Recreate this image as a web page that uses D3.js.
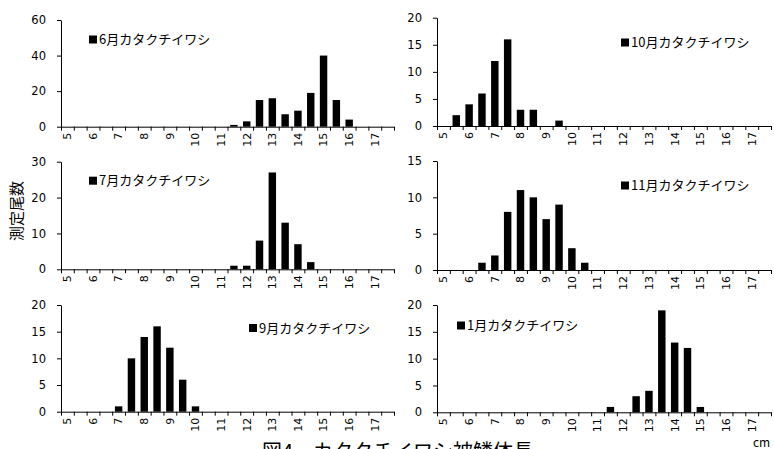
<!DOCTYPE html>
<html lang="ja">
<head>
<meta charset="UTF-8">
<script src="https://d3js.org/d3.v7.min.js"></script>
<title>カタクチイワシ被鱗体長</title>
<style>
  body { margin: 0; background: #fff; }
  svg { display: block; }
  .tick text { font-family: "DejaVu Sans", sans-serif; fill: #000; }
  .jp { font-family: "Noto Sans CJK JP", sans-serif; fill: #000; }
</style>
</head>
<body>
<svg width="774" height="449"></svg>
<script>
// 体長階級 (cm)
const lengths = ["5","5.5","6","6.5","7","7.5","8","8.5","9","9.5","10","10.5","11","11.5",
                 "12","12.5","13","13.5","14","14.5","15","15.5","16","16.5","17","17.5"]
const tickLabels = ["5","6","7","8","9","10","11","12","13","14","15","16","17"]

const months = ["6月", "10月", "7月", "11月", "9月", "1月"]
const jun = [0,0,0,0,0,0,0,0,0,0,0,0,0,1,3,15,16,7,9,19,40,15,4,0,0,0]
const oct = [0,2,4,6,12,16,3,3,0,1,0,0,0,0,0,0,0,0,0,0,0,0,0,0,0,0]
const jul = [0,0,0,0,0,0,0,0,0,0,0,0,0,1,1,8,27,13,7,2,0,0,0,0,0,0]
const nov = [0,0,0,1,2,8,11,10,7,9,3,1,0,0,0,0,0,0,0,0,0,0,0,0,0,0]
const sep = [0,0,0,0,1,10,14,16,12,6,1,0,0,0,0,0,0,0,0,0,0,0,0,0,0,0]
const jan = [0,0,0,0,0,0,0,0,0,0,0,0,0,1,0,3,4,19,13,12,1,0,0,0,0,0]
const seriesValues = [jun, oct, jul, nov, sep, jan]
const yMax = [60, 20, 30, 15, 20, 20]
const yStep = [20, 5, 10, 5, 5, 5]

// レイアウト
const panels = [
  {l: 61,  r: 394, t: 20,  b: 126.7, lx: 89,  ly: 35.5},
  {l: 437, r: 771, t: 17.7, b: 126,  lx: 621, ly: 38.5},
  {l: 61,  r: 394, t: 161.7, b: 269.3, lx: 89,  ly: 176.7},
  {l: 437, r: 771, t: 161, b: 270,   lx: 621, ly: 181.5},
  {l: 61,  r: 394, t: 305, b: 411.7, lx: 249, ly: 324},
  {l: 437, r: 771, t: 305, b: 412.3, lx: 457, ly: 321.5}
]

const svg = d3.select("svg")

panels.forEach((p, i) => {
  const vals = seriesValues[i]
  const x = d3.scaleBand().domain(lengths).range([p.l, p.r]).paddingInner(0.42).paddingOuter(0.21)
  const xb = d3.scaleLinear().domain([0, lengths.length]).range([p.l, p.r])
  const y = d3.scaleLinear().domain([0, yMax[i]]).range([p.b, p.t])
  const g = svg.append("g")

  g.selectAll("rect").data(vals).enter().append("rect")
    .attr("x", (d, j) => x(lengths[j]))
    .attr("width", x.bandwidth())
    .attr("y", d => y(d))
    .attr("height", d => y(0) - y(d))
    .attr("fill", "#000")

  // y軸
  const ya = g.append("g").attr("transform", `translate(${p.l},0)`)
    .call(d3.axisLeft(y).tickValues(d3.range(0, yMax[i] + 1, yStep[i])).tickSize(4).tickSizeOuter(0).tickPadding(11))
  ya.selectAll("text").style("font-size", "11.5px")

  // x軸の目盛線 (階級の境界)
  g.append("g").attr("transform", `translate(0,${p.b})`)
    .call(d3.axisBottom(xb).tickValues(d3.range(0, lengths.length + 1)).tickFormat("").tickSize(4).tickSizeOuter(0))

  // x軸ラベル
  const xa = g.append("g").attr("transform", `translate(0,${p.b})`)
    .call(d3.axisBottom(x).tickValues(tickLabels).tickSize(0))
  xa.select(".domain").remove()
  xa.selectAll("text")
    .style("font-size", "11px")
    .style("text-anchor", "end")
    .attr("transform", "rotate(-90)")
    .attr("x", -6).attr("y", 0).attr("dy", "0.35em")

  g.selectAll(".domain, .tick line").attr("stroke", "#000")

  // 凡例
  g.append("rect").attr("x", p.lx).attr("y", p.ly).attr("width", 8).attr("height", 8).attr("fill", "#000")
  g.append("text").attr("class", "jp")
    .attr("x", p.lx + 10).attr("y", p.ly + 8.5)
    .style("font-size", "13px")
    .text(months[i] + "カタクチイワシ")
})

svg.append("text").attr("class", "jp")
  .attr("transform", "translate(17,211) rotate(-90)")
  .attr("text-anchor", "middle").attr("dy", "0.35em")
  .style("font-size", "15px")
  .text("測定尾数")

svg.append("text").attr("class", "jp")
  .attr("x", 753).attr("y", 447)
  .style("font-size", "12px")
  .text("cm")

// 図の表題 (元図では下端で切れている)
svg.append("text").attr("class", "jp")
  .attr("x", 262).attr("y", 459)
  .style("font-size", "20px")
  .text("図4　カタクチイワシ被鱗体長")
</script>
</body>
</html>
